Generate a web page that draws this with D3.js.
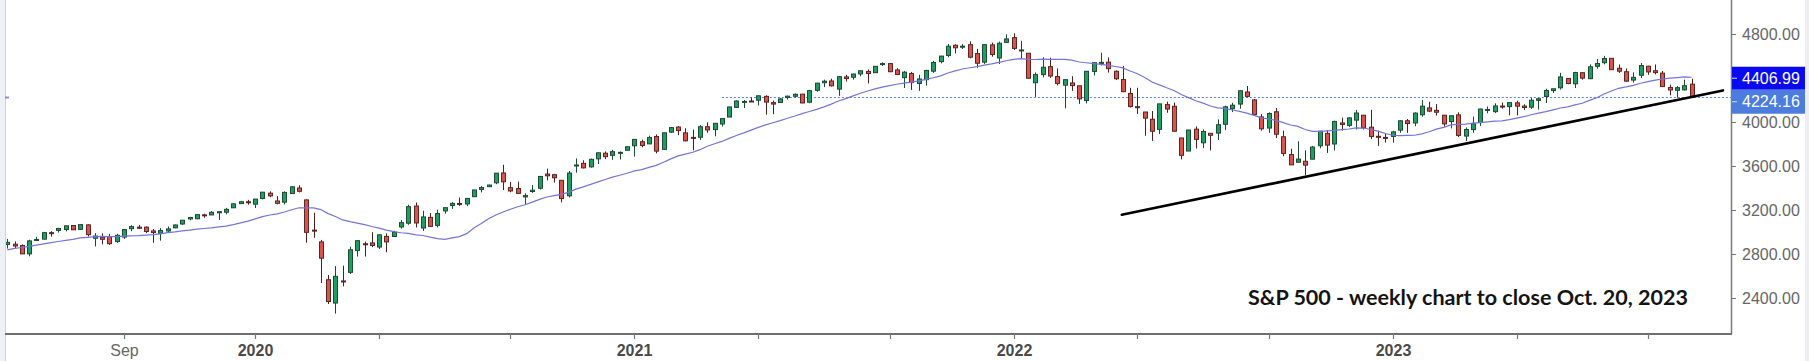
<!DOCTYPE html>
<html><head><meta charset="utf-8">
<script src="https://cdn.jsdelivr.net/npm/d3@7"></script>
<style>
html,body{margin:0;padding:0;background:#fff;overflow:hidden;}
svg{display:block;}
</style></head><body>
<svg id="c" width="1809" height="361"></svg>
<script>
// ---------- DATA (weekly candles, values read against the chart's own price axis) ----------
const firstWeek = new Date(2019, 4, 13); // Monday of the first candle
const priorCloses = [2588,2650,2723,2717,2757,2759,2824,2841,2852,2793,2870,2849,2881,2938,2952,2950,2984,2989,2927];
const open = [2887,2889,2877,2801,2931,2935,2994,3014,3023,3059,3024,3065,2943,2952,2958,2913,2954,3030,3044,3044,
  3010,2988,3009,3038,3073,3119,3120,3156,3155,3182,3180,3220,3258,3275,3253,3305,3353,3282,3271,3350,
  3400,3292,3017,2910,2566,2354,2555,2633,2831,2893,2901,2863,2960,2959,3046,3080,3236,3036,3133,3060,
  3192,3241,3259,3255,3321,3387,3412,3447,3537,3403,3395,3319,3368,3398,3527,3521,3470,3329,3608,3624,
  3592,3665,3716,3697,3719,3743,3784,3821,3801,3868,3751,3908,3954,3901,3860,3861,3957,3931,3982,4045,
  4133,4187,4191,4198,4233,4176,4177,4222,4234,4253,4180,4288,4357,4373,4299,4410,4407,4437,4460,4448,
  4526,4531,4473,4403,4441,4350,4385,4462,4549,4605,4698,4680,4703,4622,4544,4701,4582,4724,4767,4647,
  4625,4357,4431,4503,4413,4335,4355,4329,4195,4460,4537,4544,4461,4386,4259,4139,4091,4025,3933,4158,
  4143,3855,3736,3935,3811,3897,3899,3979,4121,4163,4273,4201,4046,3945,4093,3866,3704,3634,3643,3662,
  3784,3897,3800,3991,3969,4017,4062,3953,3870,3860,3869,3926,4011,3991,4066,4128,4106,4062,4004,4065,
  3872,3931,3995,4111,4094,4145,4140,4174,4145,4135,4197,4232,4286,4311,4396,4347,4448,4394,4506,4539,
  4579,4489,4457,4381,4425,4507,4466,4444,4314,4288,4292,4344];
const high = [2937,2915,2888,2930,2956,3001,3007,3038,3059,3060,3069,3070,2990,2987,2983,2984,3028,3062,3064,3050,
  3026,3035,3050,3068,3107,3137,3158,3166,3191,3188,3219,3261,3283,3292,3301,3362,3370,3326,3370,3415,
  3424,3294,3175,2928,2609,2690,2694,2866,2925,2913,2998,2978,2988,3011,3109,3248,3268,3193,3172,3203,
  3222,3273,3313,3306,3384,3418,3430,3536,3612,3455,3458,3352,3427,3510,3576,3529,3470,3555,3669,3652,
  3667,3722,3733,3747,3732,3779,3844,3841,3876,3887,3903,3952,3964,3943,3930,3973,3997,3991,4032,4137,
  4197,4200,4224,4243,4243,4195,4219,4239,4260,4256,4289,4356,4385,4394,4415,4429,4440,4466,4478,4510,
  4542,4533,4490,4463,4455,4429,4474,4555,4602,4709,4706,4708,4734,4665,4705,4722,4731,4797,4806,4738,
  4625,4451,4589,4584,4487,4385,4416,4329,4463,4542,4630,4587,4469,4510,4311,4311,4091,4100,4165,4185,
  4176,3855,3929,3960,3933,3897,4024,4148,4175,4284,4327,4209,4073,4087,4127,3922,3757,3825,3742,3782,
  3920,3927,4013,4040,4045,4110,4062,4110,3921,3894,3921,4016,4027,4088,4201,4184,4163,4062,4059,4088,
  3951,4050,4120,4141,4170,4176,4177,4193,4161,4219,4218,4303,4303,4447,4400,4456,4454,4524,4573,4601,
  4579,4523,4487,4451,4537,4511,4523,4464,4340,4326,4385,4394];
const low = [2849,2853,2800,2779,2925,2932,2958,2995,3006,3019,3019,2959,2869,2888,2882,2902,2937,3007,3028,2990,
  2902,2921,2996,3033,3064,3107,3118,3130,3155,3110,3161,3219,3258,3248,3218,3297,3316,3251,3251,3348,
  3360,2902,2947,2537,2345,2258,2506,2618,2777,2777,2863,2846,2816,2959,3030,3066,3041,3009,3047,3042,
  3166,3210,3236,3235,3318,3360,3410,3434,3381,3361,3346,3245,3356,3386,3469,3449,3269,3314,3539,3578,
  3585,3618,3663,3656,3659,3743,3685,3770,3801,3715,3746,3901,3881,3824,3743,3836,3902,3870,3958,4045,
  4127,4127,4184,4150,4067,4071,4177,4204,4223,4171,4171,4275,4317,4323,4238,4368,4385,4416,4350,4448,
  4510,4456,4426,4309,4292,4283,4331,4446,4533,4589,4624,4664,4579,4492,4528,4594,4527,4723,4655,4577,
  4395,4228,4405,4401,4332,4124,4283,4165,4169,4423,4514,4449,4382,4271,4132,4073,3875,3828,3891,4084,
  3915,3660,3736,3759,3762,3742,3836,3926,4090,4121,4224,4068,3921,3902,3854,3689,3609,3634,3519,3662,
  3761,3719,3741,3922,3954,3932,3932,3844,3783,3813,3812,3902,3901,3962,4048,4089,4058,3957,3942,3863,
  3827,3903,3964,4080,4082,4122,4060,4059,4108,4118,4113,4173,4264,4295,4343,4309,4385,4389,4484,4524,
  4472,4447,4365,4357,4400,4429,4432,4318,4243,4221,4286,4222];
const close = [2906,2873,2801,2919,2932,2994,2986,3032,3056,3020,3067,2976,2963,2934,2894,2970,3022,3049,3034,3005,
  2995,3013,3028,3064,3107,3132,3158,3149,3179,3184,3206,3256,3275,3270,3299,3362,3328,3261,3360,3411,
  3370,2997,3015,2762,2368,2597,2546,2838,2921,2884,2878,2974,2910,2998,3085,3230,3082,3137,3051,3168,
  3221,3260,3251,3305,3382,3404,3427,3535,3456,3373,3351,3331,3380,3505,3511,3493,3304,3536,3609,3583,
  3661,3720,3685,3730,3724,3775,3842,3787,3858,3735,3902,3949,3922,3829,3859,3957,3928,3988,4031,4137,
  4191,4187,4188,4238,4181,4163,4210,4235,4252,4173,4285,4353,4371,4329,4412,4395,4436,4466,4441,4506,
  4531,4457,4432,4453,4358,4391,4469,4541,4599,4689,4675,4689,4589,4534,4703,4614,4716,4755,4669,4655,
  4398,4431,4498,4418,4351,4385,4331,4210,4461,4539,4542,4485,4393,4276,4140,4131,4035,3916,4165,4118,
  3916,3697,3927,3842,3914,3879,3975,4138,4153,4284,4233,4068,3938,4077,3889,3714,3610,3663,3608,3772,
  3916,3790,4005,3978,4037,4082,3948,3868,3862,3857,3910,4011,3986,4081,4144,4099,4089,3983,4057,3878,
  3932,3984,4118,4114,4146,4142,4176,4144,4132,4198,4211,4286,4302,4410,4350,4449,4399,4502,4532,4577,
  4476,4462,4371,4406,4513,4455,4449,4322,4291,4312,4330,4224.16];
const maShown = 4406.99;                    // value printed in the moving-average box
const yTickValues = [2400, 2800, 3200, 3600, 4000, 4400, 4800];
const tickMonths = [0, 4, 8];               // Jan, May, Sep
const maPeriod = 20;
const trendline = [{i: 152.85, v: 3157}, {i: 235.3, v: 4287}];
const priceLineFrom = 98;                   // candle index where the last-price line starts
const note = "S&P 500 - weekly chart to close Oct. 20, 2023";

// ---------- LAYOUT ----------
const W = 1809, H = 361;
const plotL = 6, plotR = 1731, axisY = 334;
const svg = d3.select("#c");
const n = close.length;
const dates = d3.range(n).map(i => d3.timeDay.offset(firstWeek, 7 * i));

const x = d3.scaleLinear().domain([0, n - 1]).range([7.3, 1691.6]);
const y = d3.scaleLinear().domain([2400, 4800]).range([298, 34]);

// 20-week moving average of the closes
const allCloses = priorCloses.concat(close);
const ma = d3.range(n).map(i => d3.mean(allCloses.slice(i, i + maPeriod)));

// background pieces
svg.append("rect").attr("width", W).attr("height", H).attr("fill", "#fff");
svg.append("rect").attr("x", 0).attr("y", 0).attr("width", 5).attr("height", H).attr("fill", "#eef0f5");
svg.append("line").attr("x1", 5.5).attr("x2", 5.5).attr("y1", 0).attr("y2", H).attr("stroke", "#cfd3db");
svg.append("rect").attr("x", 1805).attr("y", 0).attr("width", 4).attr("height", H).attr("fill", "#eceef3");

svg.append("defs").append("clipPath").attr("id", "plot")
  .append("rect").attr("x", plotL).attr("y", 0).attr("width", plotR - plotL).attr("height", axisY);
const g = svg.append("g").attr("clip-path", "url(#plot)");

// last price dotted line
const lastClose = close[n - 1];
const py = Math.round(y(lastClose)) + 0.5;
g.append("line")
  .attr("x1", x(priceLineFrom)).attr("x2", plotR).attr("y1", py).attr("y2", py)
  .attr("stroke", "#5b80d8").attr("stroke-width", 1).attr("stroke-dasharray", "2,2");
svg.append("line").attr("x1", 5).attr("x2", 9).attr("y1", py).attr("y2", py)
  .attr("stroke", "#7d96d8").attr("stroke-width", 2);

// candles
const up = i => close[i] >= open[i];
const cx = i => Math.round(x(i)) + 0.5;
const cg = g.append("g");
cg.selectAll("line").data(d3.range(n)).join("line")
  .attr("x1", cx).attr("x2", cx)
  .attr("y1", i => y(high[i])).attr("y2", i => y(low[i]))
  .attr("stroke", i => up(i) ? "#1d4a33" : "#4d1f1c").attr("stroke-width", 1);
cg.selectAll("rect").data(d3.range(n)).join("rect")
  .attr("x", i => cx(i) - 2)
  .attr("width", 4)
  .attr("y", i => Math.min(y(open[i]), y(close[i])))
  .attr("height", i => Math.max(1, Math.abs(y(open[i]) - y(close[i]))))
  .attr("fill", i => up(i) ? "#1f9e61" : "#d9534c")
  .attr("stroke", i => up(i) ? "#1d4a33" : "#5e2420").attr("stroke-width", 1);

// moving average line
g.append("path").datum(d3.range(n))
  .attr("d", d3.line().x(i => x(i)).y(i => y(ma[i])))
  .attr("fill", "none").attr("stroke", "#7474dc").attr("stroke-width", 1.2);

// trendline
g.append("line")
  .attr("x1", x(trendline[0].i)).attr("y1", y(trendline[0].v))
  .attr("x2", x(trendline[1].i)).attr("y2", y(trendline[1].v))
  .attr("stroke", "#000").attr("stroke-width", 2.6).attr("stroke-linecap", "round");

// axes frame
svg.append("line").attr("x1", 5).attr("x2", plotR + 1).attr("y1", axisY).attr("y2", axisY)
  .attr("stroke", "#6e6e6e").attr("stroke-width", 2);
svg.append("line").attr("x1", plotR + 0.5).attr("x2", plotR + 0.5).attr("y1", 0).attr("y2", axisY)
  .attr("stroke", "#7a7a7a").attr("stroke-width", 1.5);

// x axis
const tickIdx = d3.range(n).filter(i => tickMonths.includes(dates[i].getMonth()) && dates[i].getDate() <= 7);
const xAxis = d3.axisBottom(x).tickValues(tickIdx).tickSize(5).tickPadding(6)
  .tickFormat((i, k) => dates[i].getMonth() === 0 ? d3.timeFormat("%Y")(dates[i]) : (k === 0 ? d3.timeFormat("%b")(dates[i]) : ""));
const gx = svg.append("g").attr("transform", `translate(0,${axisY})`).call(xAxis);
gx.select(".domain").remove();
gx.selectAll(".tick").attr("transform", d => `translate(${cx(d)},0)`);
gx.selectAll(".tick line").attr("stroke", "#777").attr("stroke-width", 1.2);
gx.selectAll(".tick text")
  .attr("font-family", "'Liberation Sans', Arial, sans-serif").attr("font-size", 16)
  .attr("fill", d => dates[d].getMonth() === 0 ? "#4a4a4a" : "#666")
  .attr("font-weight", d => dates[d].getMonth() === 0 ? "bold" : "normal")
  .attr("y", 11).attr("dy", "0.71em");

// y axis
const yAxis = d3.axisRight(y).tickValues(yTickValues).tickSize(5).tickPadding(6).tickFormat(d3.format(".2f"));
const gy = svg.append("g").attr("transform", `translate(${plotR},0)`).call(yAxis);
gy.select(".domain").remove();
gy.selectAll(".tick line").attr("stroke", "#777");
gy.selectAll(".tick text")
  .attr("font-family", "'Liberation Sans', Arial, sans-serif").attr("font-size", 16)
  .attr("fill", "#666").attr("x", 11);

// value boxes
const maBoxH = 23, prBoxH = 24;
const maBoxY = y(maShown) - 10.5;
const prBoxY = Math.max(y(lastClose) - prBoxH / 2, maBoxY + maBoxH);
const boxes = [
  {yy: maBoxY, h: maBoxH, fill: "#0a0af0", label: d3.format(".2f")(maShown)},
  {yy: prBoxY, h: prBoxH, fill: "#4c7cdd", label: d3.format(".2f")(lastClose)}
];
const bg = svg.append("g");
bg.selectAll("rect").data(boxes).join("rect")
  .attr("x", plotR + 1).attr("y", d => d.yy).attr("width", 1805 - plotR - 1).attr("height", d => d.h)
  .attr("fill", d => d.fill);
bg.selectAll("line").data(boxes).join("line")
  .attr("x1", plotR + 1).attr("x2", plotR + 6).attr("y1", d => d.yy + d.h / 2).attr("y2", d => d.yy + d.h / 2)
  .attr("stroke", "#cfd8ff");
bg.selectAll("text").data(boxes).join("text")
  .attr("x", plotR + 11).attr("y", d => d.yy + d.h / 2).attr("dy", "0.36em")
  .attr("font-family", "'Liberation Sans', Arial, sans-serif").attr("font-size", 16)
  .attr("fill", "#fff").text(d => d.label);

// annotation
const t = svg.append("text").attr("x", 1248).attr("y", 305)
  .attr("font-family", "Lato, 'Open Sans', sans-serif").attr("font-weight", 700)
  .attr("font-size", 22).attr("fill", "#141414").text(note);
const wNow = t.node().getComputedTextLength();
t.attr("font-size", 22 * 440 / wNow);
</script>
</body></html>
